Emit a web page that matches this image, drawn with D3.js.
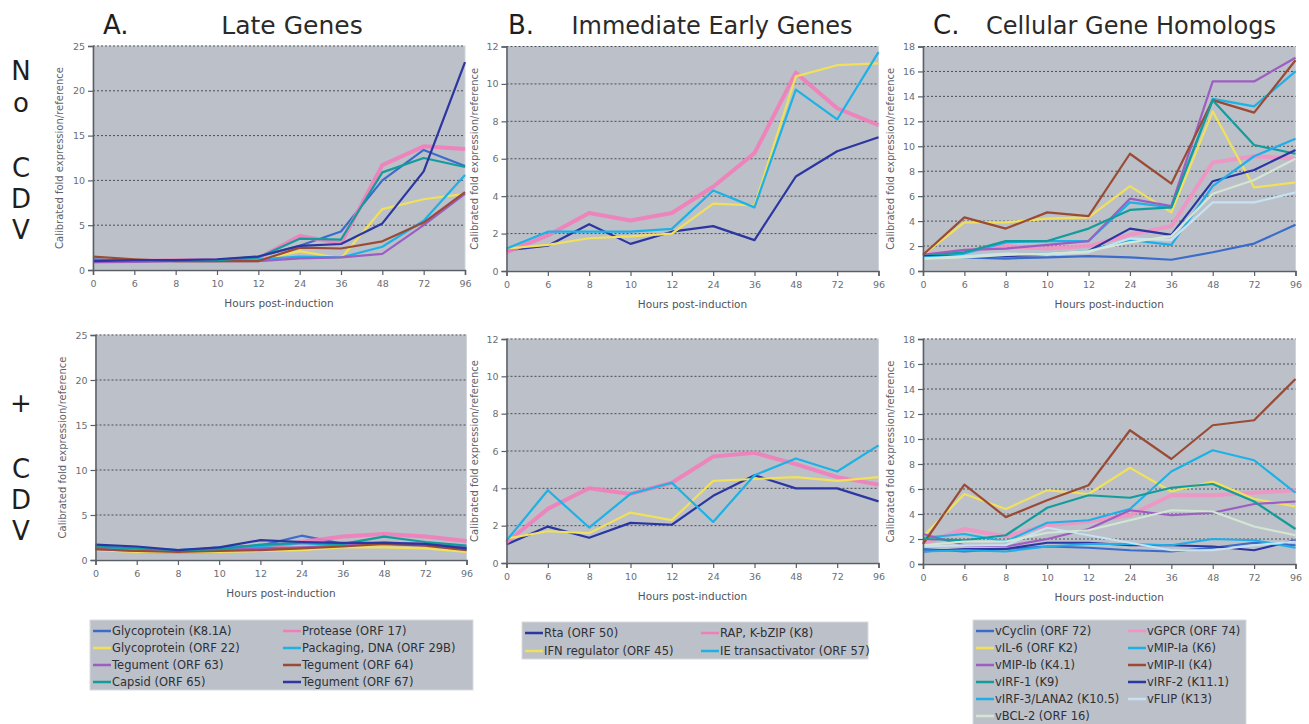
<!DOCTYPE html>
<html>
<head>
<meta charset="utf-8">
<script src="https://cdn.jsdelivr.net/npm/d3@7"></script>
<style>
body{margin:0;background:#fff;}
svg{display:block;font-family:"DejaVu Sans",Verdana,sans-serif;}
</style>
</head>
<body>
<svg id="chart" width="1309" height="724"></svg>
<script>
// ---------- DATA ----------
const hours = ["0","6","8","10","12","24","36","48","72","96"];

const lateGenes = ["Glycoprotein (K8.1A)","Protease (ORF 17)","Glycoprotein (ORF 22)","Packaging, DNA (ORF 29B)",
  "Tegument (ORF 63)","Tegument (ORF 64)","Capsid (ORF 65)","Tegument (ORF 67)"];
const lateYTicks = [0,5,10,15,20,25];
const lateNoCDV = [
  [1.2,1.0,1.1,1.1,1.5,2.7,4.3,10.0,13.4,11.6],
  [0.9,1.0,1.1,1.1,1.3,3.8,3.0,11.7,13.8,13.5],
  [1.1,1.0,1.0,1.0,1.1,2.1,1.3,6.8,7.9,8.5],
  [1.0,1.0,1.0,1.0,1.2,1.5,1.4,2.6,5.5,10.6],
  [0.9,0.9,1.0,1.0,1.0,1.3,1.4,1.8,5.0,8.5],
  [1.5,1.2,1.0,1.0,1.0,2.5,2.4,3.2,5.3,8.7],
  [1.1,1.1,1.1,1.1,1.4,3.5,3.4,10.9,12.5,11.5],
  [1.0,1.1,1.1,1.2,1.5,2.7,2.9,5.2,11.0,23.2]
];
const latePlusCDV = [
  [1.4,1.2,1.0,1.4,1.6,2.7,1.8,1.8,1.7,1.1],
  [1.3,1.0,0.9,1.0,1.3,2.0,2.6,2.9,2.6,2.1],
  [1.1,0.9,0.9,0.9,1.0,1.1,1.4,1.4,1.3,0.9],
  [1.4,1.3,1.1,1.3,1.5,1.9,1.6,2.0,1.7,1.3],
  [1.2,1.0,1.0,1.1,1.3,1.4,1.6,1.9,1.8,1.4],
  [1.2,1.0,0.9,1.0,1.1,1.3,1.5,1.8,1.6,1.1],
  [1.5,1.3,1.1,1.2,1.7,1.9,1.8,2.6,2.0,1.6],
  [1.7,1.5,1.1,1.4,2.2,2.0,1.9,1.9,1.8,1.3]
];

const ieGenes = ["Rta (ORF 50)","RAP, K-bZIP (K8)","IFN regulator (ORF 45)","IE transactivator (ORF 57)"];
const ieYTicks = [0,2,4,6,8,10,12];
const ieNoCDV = [
  [1.1,1.35,2.5,1.45,2.1,2.4,1.65,5.05,6.4,7.15],
  [1.0,1.9,3.1,2.7,3.1,4.5,6.3,10.6,8.7,7.8],
  [1.2,1.4,1.75,1.85,2.0,3.6,3.5,10.4,11.0,11.1],
  [1.2,2.1,2.1,2.1,2.25,4.3,3.4,9.7,8.1,11.7]
];
const iePlusCDV = [
  [1.0,1.95,1.35,2.15,2.05,3.6,4.7,4.0,4.0,3.3],
  [1.1,2.9,4.0,3.7,4.3,5.7,5.9,5.3,4.6,4.2],
  [1.3,1.7,1.6,2.7,2.3,4.4,4.5,4.6,4.4,4.6],
  [1.2,3.9,1.9,3.7,4.3,2.2,4.7,5.6,4.9,6.3]
];

const cellGenes = ["vCyclin (ORF 72)","vGPCR (ORF 74)","vIL-6 (ORF K2)","vMIP-Ia (K6)","vMIP-Ib (K4.1)","vMIP-II (K4)",
  "vIRF-1 (K9)","vIRF-2 (K11.1)","vIRF-3/LANA2 (K10.5)","vFLIP (K13)","vBCL-2 (ORF 16)"];
const cellYTicks = [0,2,4,6,8,10,12,14,16,18];
const cellNoCDV = [
  [1.3,1.1,1.0,1.1,1.2,1.1,0.9,1.5,2.2,3.7],
  [1.3,1.6,2.0,1.8,2.0,2.9,3.6,8.7,9.2,9.0],
  [1.3,3.9,3.9,4.2,4.3,6.8,4.7,12.8,6.7,7.1],
  [1.0,1.4,2.3,2.4,2.4,5.5,5.1,13.8,13.2,16.0],
  [1.3,1.7,1.8,2.1,2.4,5.8,5.2,15.2,15.2,17.1],
  [1.3,4.3,3.4,4.7,4.4,9.4,7.0,13.7,12.7,16.9],
  [1.2,1.5,2.4,2.4,3.4,4.9,5.1,13.7,10.1,9.4],
  [1.2,1.2,1.2,1.3,1.6,3.4,2.9,7.2,8.1,9.7],
  [1.1,1.2,1.3,1.4,1.6,2.5,2.1,6.8,9.2,10.6],
  [1.0,1.2,1.4,1.3,1.5,2.6,2.5,5.5,5.5,6.3],
  [1.0,1.1,1.3,1.4,1.6,2.3,2.8,6.2,7.3,9.0]
];
const cellPlusCDV = [
  [1.2,1.0,1.2,1.4,1.3,1.1,1.0,1.3,1.7,1.5],
  [1.6,2.8,2.2,3.1,3.4,3.9,5.5,5.5,5.7,5.9],
  [2.2,5.6,4.4,5.9,5.6,7.7,5.8,6.6,5.2,4.6],
  [2.1,2.4,1.8,3.3,3.5,4.4,7.4,9.1,8.3,5.7],
  [2.4,1.5,1.4,2.0,2.8,4.3,3.9,4.1,4.8,5.0],
  [1.6,6.35,3.75,5.1,6.3,10.7,8.4,11.1,11.5,14.8],
  [2.0,1.9,2.3,4.5,5.5,5.3,6.1,6.4,5.0,2.8],
  [1.0,1.2,1.2,1.7,1.7,1.5,1.5,1.4,1.1,1.9],
  [1.0,1.1,1.0,1.4,1.6,1.6,1.5,2.0,1.9,1.3],
  [1.4,1.5,1.5,2.9,2.3,1.7,1.1,1.1,1.5,1.8],
  [1.5,1.8,1.8,2.5,2.7,3.5,4.3,4.2,3.0,2.3]
];

// ---------- STYLES ----------
const lateColors = ["#3b6cc9","#f27dba","#f0e05a","#1cb2e6","#9c5ec2","#9a4b35","#129c9c","#2b36a0"];
const ieColors = ["#2b36a0","#f27dba","#f0e05a","#1cb2e6"];
const cellColors = ["#3b6cc9","#f292c4","#f0e05a","#1cb2e6","#9c5ec2","#9a4b35","#129c9c","#2b36a0","#20aee8","#c6e2f2","#d3e6d4"];

const svg = d3.select("#chart");
const plotBg = "#bcc0c8";

function drawPanel(cfg) {
  const {x0,x1,y0,y1,data,colors,yTicks,yLabelX,pinkIdx} = cfg;
  const g = svg.append("g");
  const x = d3.scalePoint().domain(hours).range([x0,x1]).padding(0);
  const y = d3.scaleLinear().domain([0,d3.max(yTicks)]).range([y1,y0]);
  g.append("rect").attr("x",x0).attr("y",y0).attr("width",x1-x0).attr("height",y1-y0)
    .attr("fill",plotBg).attr("stroke","#d0d4da").attr("stroke-width",1);
  g.selectAll(".grid").data(yTicks.filter(t=>t>0)).join("line")
    .attr("x1",x0).attr("x2",x1).attr("y1",d=>y(d)).attr("y2",d=>y(d))
    .attr("stroke","#4a4e56").attr("stroke-width",1).attr("stroke-dasharray","2,2");
  const line = d3.line().x((d,i)=>x(hours[i])).y(d=>y(d));
  data.forEach((s,i)=>{
    const isPink = pinkIdx.includes(i);
    g.append("path").datum(s).attr("d",line).attr("fill","none")
      .attr("stroke",colors[i]).attr("stroke-width",isPink?4:2.2)
      .attr("stroke-linejoin","round").attr("opacity",isPink?0.9:1);
  });
  const ya = d3.axisLeft(y).tickValues(yTicks).tickSize(5).tickPadding(3);
  const yg = g.append("g").attr("transform",`translate(${x0},0)`).call(ya);
  const xa = d3.axisBottom(x).tickSize(5).tickPadding(5);
  const xg = g.append("g").attr("transform",`translate(0,${y1})`).call(xa);
  [yg,xg].forEach(a=>{
    a.select(".domain").attr("stroke","#5a5e66").attr("stroke-width",1.5);
    a.selectAll(".tick line").attr("stroke","#5a5e66").attr("stroke-width",1.2);
    a.selectAll(".tick text").attr("fill","#6a6e76").attr("font-size",9.5)
      .attr("font-family","DejaVu Sans, sans-serif");
  });
  g.append("text").attr("transform",`translate(${yLabelX},${(y0+y1)/2}) rotate(-90)`)
    .attr("text-anchor","middle").attr("dominant-baseline","middle")
    .attr("font-size",10).attr("fill","#5e626a").text("Calibrated fold expression/reference");
  g.append("text").attr("x",(x0+x1)/2).attr("y",y1+37).attr("text-anchor","middle")
    .attr("font-size",10.5).attr("fill","#50545c").text("Hours post-induction");
}

function drawLegend(cfg) {
  const {bx,by,bw,bh,names,colors,col2x,rowH} = cfg;
  const g = svg.append("g");
  g.append("rect").attr("x",bx).attr("y",by).attr("width",bw).attr("height",bh)
    .attr("fill",plotBg).attr("stroke","#d8dbe0");
  names.forEach((n,i)=>{
    const col = i%2, row = Math.floor(i/2);
    const lx = col===0 ? bx+3 : col2x;
    const ly = by+11+row*rowH;
    g.append("line").attr("x1",lx).attr("x2",lx+18).attr("y1",ly).attr("y2",ly)
      .attr("stroke",colors[i]).attr("stroke-width",2.5);
    g.append("text").attr("x",lx+19).attr("y",ly).attr("dominant-baseline","middle")
      .attr("font-size",11.5).attr("fill","#2e3036").text(n);
  });
}

const pinkLate=[1], pinkIE=[1], pinkCell=[1];
drawPanel({x0:93,x1:465,y0:46,y1:270,data:lateNoCDV,colors:lateColors,yTicks:lateYTicks,yLabelX:60,pinkIdx:pinkLate});
drawPanel({x0:95.5,x1:466.5,y0:335,y1:560,data:latePlusCDV,colors:lateColors,yTicks:lateYTicks,yLabelX:63,pinkIdx:pinkLate});
drawPanel({x0:506.5,x1:878.5,y0:46.5,y1:271,data:ieNoCDV,colors:ieColors,yTicks:ieYTicks,yLabelX:475,pinkIdx:pinkIE});
drawPanel({x0:506.5,x1:878.5,y0:339,y1:563,data:iePlusCDV,colors:ieColors,yTicks:ieYTicks,yLabelX:475,pinkIdx:pinkIE});
drawPanel({x0:923,x1:1295.5,y0:46.5,y1:271,data:cellNoCDV,colors:cellColors,yTicks:cellYTicks,yLabelX:891,pinkIdx:pinkCell});
drawPanel({x0:923,x1:1295.5,y0:339,y1:564,data:cellPlusCDV,colors:cellColors,yTicks:cellYTicks,yLabelX:891,pinkIdx:pinkCell});

drawLegend({bx:90,by:620,bw:383,bh:70,names:lateGenes,colors:lateColors,col2x:283,rowH:17});
drawLegend({bx:522,by:622,bw:346,bh:37,names:ieGenes,colors:ieColors,col2x:701,rowH:18});
drawLegend({bx:973,by:620,bw:273,bh:110,names:cellGenes,colors:cellColors,col2x:1128,rowH:17});

const titles = [
  {letter:"A.",lx:103,name:"Late Genes",nx:292,fs:25},
  {letter:"B.",lx:508,name:"Immediate Early Genes",nx:712,fs:24},
  {letter:"C.",lx:933,name:"Cellular Gene Homologs",nx:1131,fs:24}
];
titles.forEach(t=>{
  svg.append("text").attr("x",t.lx).attr("y",34).attr("font-size",26).attr("fill","#1e1e1e").text(t.letter);
  svg.append("text").attr("x",t.nx).attr("y",34).attr("font-size",t.fs).attr("text-anchor","middle")
    .attr("fill","#2a2a2a").text(t.name);
});

// Row labels (stacked letters)
const rowLetters = [
  {t:"N",y:80},{t:"o",y:112},
  {t:"C",y:177},{t:"D",y:208},{t:"V",y:239},
  {t:"+",y:412},
  {t:"C",y:478},{t:"D",y:509},{t:"V",y:540}
];
rowLetters.forEach(r=>{
  svg.append("text").attr("x",21).attr("y",r.y).attr("text-anchor","middle")
    .attr("font-size",26).attr("fill","#1e1e1e").text(r.t);
});
</script>
</body>
</html>
